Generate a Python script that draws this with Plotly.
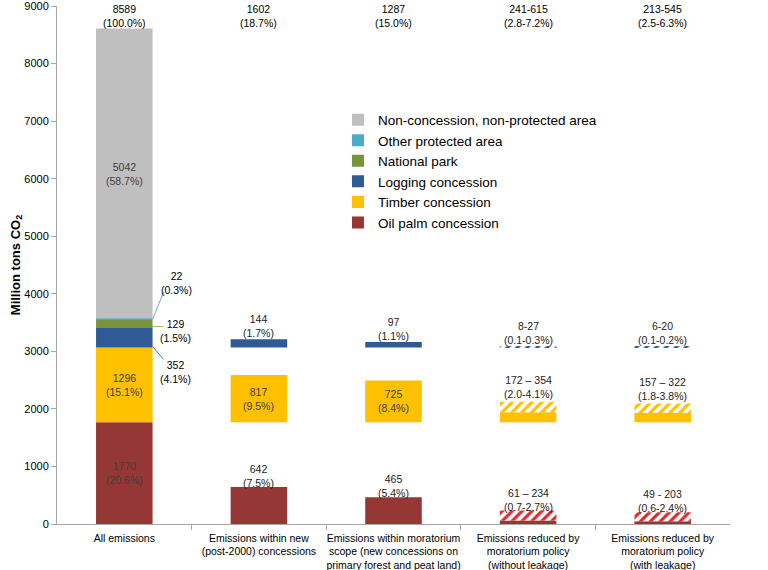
import plotly.graph_objects as go

# ---------------- data ----------------
categories = [
    "All emissions",
    "Emissions within new<br>(post-2000) concessions",
    "Emissions within moratorium<br>scope (new concessions on<br>primary forest and peat land)",
    "Emissions reduced by<br>moratorium policy<br>(without leakage)",
    "Emissions reduced by<br>moratorium policy<br>(with leakage)",
]
oil_palm_low = [1770, 642, 465, 61, 49]
oil_palm_high = [1770, 642, 465, 234, 203]
timber_low = [1296, 817, 725, 172, 157]
timber_high = [1296, 817, 725, 354, 322]
logging_low = [352, 144, 97, 8, 6]
logging_high = [352, 144, 97, 27, 20]
national_park = [129]
other_protected = [22]
non_concession = [5042]
y_ticks = [0, 1000, 2000, 3000, 4000, 5000, 6000, 7000, 8000, 9000]

total_labels = ["8589<br>(100.0%)", "1602<br>(18.7%)", "1287<br>(15.0%)",
                "241-615<br>(2.8-7.2%)", "213-545<br>(2.5-6.3%)"]
oil_palm_labels = ["1770<br>(20.6%)", "642<br>(7.5%)", "465<br>(5.4%)",
                   "61 – 234<br>(0.7-2.7%)", "49 - 203<br>(0.6-2.4%)"]
timber_labels = ["1296<br>(15.1%)", "817<br>(9.5%)", "725<br>(8.4%)",
                 "172 – 354<br>(2.0-4.1%)", "157 – 322<br>(1.8-3.8%)"]
logging_labels = ["352<br>(4.1%)", "144<br>(1.7%)", "97<br>(1.1%)",
                  "8-27<br>(0.1-0.3%)", "6-20<br>(0.1-0.2%)"]
national_park_label = "129<br>(1.5%)"
other_protected_label = "22<br>(0.3%)"
non_concession_label = "5042<br>(58.7%)"

# ---------------- style ----------------
FONT = "Liberation Sans, Arial, sans-serif"
C_GREY = "#BFBFBF"
C_OTHER = "#4BACC6"
C_PARK = "#77933C"
C_LOG = "#2F5A96"
C_TIMBER = "#FFC000"
C_OIL = "#953735"
C_OIL_HATCH = "#E3262B"
TXT_IN = "#404040"
LBL = 10.5
W = 0.42

x = list(range(len(categories)))
oil_base = 0
timber_base = oil_base + oil_palm_low[0]
logging_base = timber_base + timber_low[0]
park_base = logging_base + logging_low[0]
other_base = park_base + national_park[0]
non_base = other_base + other_protected[0]

fig = go.Figure()


def solid(name, xs, ys, base, color, legend=True):
    fig.add_trace(go.Bar(x=xs, y=ys, base=[base] * len(xs), width=W, name=name,
                         marker=dict(color=color, line=dict(width=0)),
                         showlegend=legend, hoverinfo="skip"))


def hatched(xs, lows, highs, base, color):
    fig.add_trace(go.Bar(
        x=xs, y=[h - l for l, h in zip(lows, highs)],
        base=[base + l for l in lows], width=W, showlegend=False,
        marker=dict(color="white", line=dict(width=0),
                    pattern=dict(shape="/", fgcolor=color, bgcolor="white",
                                 size=7, solidity=0.45, fillmode="replace")),
        hoverinfo="skip"))


hx = [i for i in x if oil_palm_high[i] != oil_palm_low[i]]

solid("Oil palm concession", x, oil_palm_low, oil_base, C_OIL)
solid("Timber concession", x, timber_low, timber_base, C_TIMBER)
solid("Logging concession", x, logging_low, logging_base, C_LOG)
solid("National park", [0], national_park, park_base, C_PARK)
solid("Other protected area", [0], other_protected, other_base, C_OTHER)
solid("Non-concession, non-protected area", [0], non_concession, non_base, C_GREY)

hatched(hx, [oil_palm_low[i] for i in hx], [oil_palm_high[i] for i in hx], oil_base, C_OIL_HATCH)
hatched(hx, [timber_low[i] for i in hx], [timber_high[i] for i in hx], timber_base, C_TIMBER)
hatched(hx, [logging_low[i] for i in hx], [logging_high[i] for i in hx], logging_base, C_LOG)

ann = []


def label(xv, yv, text, yanchor="middle", color=TXT_IN, xshift=0, yshift=0):
    ann.append(dict(x=xv, y=yv, xref="x", yref="y", text=text, showarrow=False,
                    xanchor="center", yanchor=yanchor, xshift=xshift, yshift=yshift,
                    font=dict(family=FONT, size=LBL, color=color), align="center"))


# All-emissions bar segment labels (inside)
label(0, oil_base + oil_palm_low[0] / 2, oil_palm_labels[0])
label(0, timber_base + timber_low[0] / 2, timber_labels[0])
label(0, non_base + non_concession[0] / 2, non_concession_label)
# side labels
label(0, logging_base + logging_low[0] / 2, logging_labels[0], color="#000000", xshift=51, yshift=-35)
label(0, park_base + national_park[0] / 2, national_park_label, color="#000000", xshift=51, yshift=-7)
label(0, other_base + other_protected[0] / 2, other_protected_label, color="#000000", xshift=52, yshift=36)

for i in x[1:]:
    # oil palm: above
    label(i, oil_base + oil_palm_high[i], oil_palm_labels[i], yanchor="bottom", color="#222222", yshift=-4)
    # timber
    if timber_high[i] == timber_low[i]:
        label(i, timber_base + timber_low[i] / 2, timber_labels[i])
    else:
        label(i, timber_base + timber_high[i], timber_labels[i], yanchor="bottom", color="#222222", yshift=0)
    # logging: above
    label(i, logging_base + logging_high[i], logging_labels[i], yanchor="bottom", color="#222222", yshift=-2)

# totals on top
for i in x:
    ann.append(dict(x=i, y=1, xref="x", yref="paper", text=total_labels[i], showarrow=False,
                    xanchor="center", yanchor="top", yshift=5,
                    font=dict(family=FONT, size=LBL, color="#000000")))

# leader lines for small segments (pixel-sized, anchored at bar edge)
shapes = []
for base, val, color, dy0, dy1 in [
    (other_base, other_protected[0], "#7F9FC5", 0, 27),
    (park_base, national_park[0], "#9BBB59", -3, -3),
    (logging_base, logging_low[0], "#4F6F9F", -9, -22),
]:
    shapes.append(dict(type="line", xref="x", yref="y", xsizemode="pixel", ysizemode="pixel",
                       xanchor=W / 2, yanchor=base + val / 2, x0=0, x1=11, y0=dy0, y1=dy1,
                       line=dict(color=color, width=1)))

fig.update_layout(
    width=768, height=570,
    margin=dict(l=57, r=38, t=6, b=46, autoexpand=False),
    barmode="overlay",
    plot_bgcolor="white", paper_bgcolor="white",
    font=dict(family=FONT, size=12, color="#000000"),
    annotations=ann, shapes=shapes,
    legend=dict(x=0.4175, y=0.81, xanchor="left", yanchor="top", traceorder="reversed",
                bgcolor="rgba(0,0,0,0)", font=dict(family=FONT, size=13.5, color="#000000"),
                itemwidth=30, tracegroupgap=0),
    xaxis=dict(range=[-0.5, 4.5], tickmode="array", tickvals=x, ticktext=categories,
               tickangle=0, automargin=False, ticklabelstandoff=4,
               ticks="", showline=True, linecolor="#A6A6A6", linewidth=1,
               showgrid=False, zeroline=False, tickfont=dict(family=FONT, size=LBL, color="#000000"),
               minor=dict(tickmode="array", tickvals=[0.5, 1.5, 2.5, 3.5], ticks="outside",
                          ticklen=5, tickcolor="#A6A6A6", showgrid=False)),
    yaxis=dict(range=[0, 9001], tickmode="array", tickvals=y_ticks,
               ticks="outside", ticklen=5, tickcolor="#A6A6A6",
               automargin=False, ticklabeloverflow="allow",
               showline=True, linecolor="#A6A6A6", linewidth=1, showgrid=False, zeroline=False,
               tickfont=dict(family=FONT, size=11, color="#000000"),
               title=dict(text="<b>Million tons CO<sub>2</sub></b>", standoff=0,
                          font=dict(family=FONT, size=13, color="#000000"))),
)

fig.write_html("out.html", config={"displayModeBar": False},
               post_script="document.body.style.margin='0';")
